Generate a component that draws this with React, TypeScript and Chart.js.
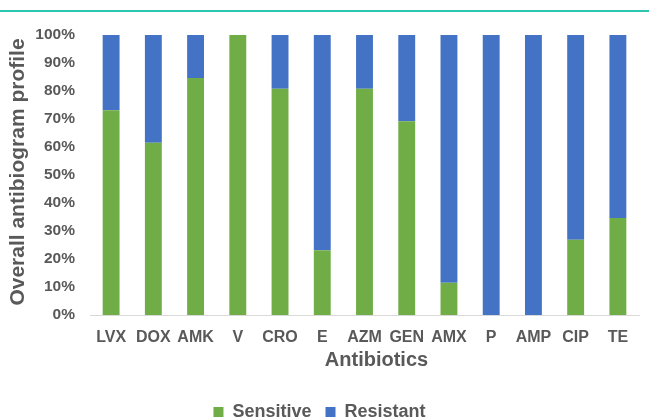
import React, { useEffect, useRef } from "react";
import { Chart, registerables } from "chart.js";

Chart.register(...registerables);

const categories = ["LVX", "DOX", "AMK", "V", "CRO", "E", "AZM", "GEN", "AMX", "P", "AMP", "CIP", "TE"];
const sensitive = [73.1, 61.5, 84.6, 100, 80.8, 23.1, 80.8, 69.2, 11.5, 0, 0, 26.9, 34.6];
const resistant = [26.9, 38.5, 15.4, 0, 19.2, 76.9, 19.2, 30.8, 88.5, 100, 100, 73.1, 65.4];
const yTicks = ["0%", "10%", "20%", "30%", "40%", "50%", "60%", "70%", "80%", "90%", "100%"];
const xTitle = "Antibiotics";
const yTitle = "Overall antibiogram profile";

const TEXT = "#595959";
const FONT = "'Liberation Sans', Arial, sans-serif";

const titlesPlugin = {
  id: "axisTitles",
  afterDraw(chart: any) {
    const { ctx, chartArea } = chart;
    ctx.save();
    ctx.fillStyle = TEXT;
    ctx.font = `bold 20px ${FONT}`;
    ctx.textAlign = "center";
    ctx.textBaseline = "middle";
    const cx = (chartArea.left + chartArea.right) / 2 + 12;
    ctx.fillText(xTitle, cx, chartArea.bottom + 45);
    ctx.translate(18, (chartArea.top + chartArea.bottom) / 2 - 3);
    ctx.rotate(-Math.PI / 2);
    ctx.font = `bold 21px ${FONT}`;
    ctx.fillText(yTitle, 0, 0);
    ctx.restore();
  },
};

export default function App() {
  const ref = useRef<HTMLCanvasElement>(null);
  useEffect(() => {
    const chart = new Chart(ref.current!, {
      type: "bar",
      data: {
        labels: categories,
        datasets: [
          { label: "Sensitive", data: sensitive, backgroundColor: "#70AD47" },
          { label: "Resistant", data: resistant, backgroundColor: "#4472C4" },
        ],
      },
      options: {
        animation: false,
        responsive: true,
        maintainAspectRatio: false,
        layout: { padding: { top: 35, right: 10, left: 0, bottom: 0 } },
        datasets: { bar: { barPercentage: 0.4, categoryPercentage: 1 } },
        plugins: {
          tooltip: { enabled: false },
          legend: {
            position: "bottom",
            labels: {
              boxWidth: 10,
              boxHeight: 10,
              padding: 14,
              color: TEXT,
              font: { family: FONT, size: 18, weight: "bold" },
            },
          },
        },
        scales: {
          x: {
            stacked: true,
            grid: { display: false },
            border: { color: "#D9D9D9", width: 1 },
            ticks: {
              color: TEXT,
              padding: 5,
              maxRotation: 0,
              autoSkip: false,
              font: { family: FONT, size: 16, weight: "bold" },
            },
            afterFit: (s: any) => {
              s.height = 74;
            },
          },
          y: {
            stacked: true,
            min: 0,
            max: 100,
            grid: { display: false },
            border: { display: false },
            ticks: {
              stepSize: 10,
              color: TEXT,
              padding: 7,
              font: { family: FONT, size: 15.5, weight: "bold" },
              callback: (v: any) => yTicks[Math.round(Number(v) / 10)],
            },
            afterFit: (s: any) => {
              s.width = 90;
            },
          },
        },
      },
      plugins: [titlesPlugin],
    });
    return () => chart.destroy();
  }, []);
  return (
    <div style={{ position: "absolute", left: 0, top: 0, width: 649, height: 419, overflow: "hidden", background: "#fff" }}>
      <div style={{ position: "absolute", left: 0, top: 10, width: 649, height: 2, background: "#2CC5B0" }} />
      <div style={{ position: "absolute", left: 0, top: 0, width: 649, height: 431 }}>
        <canvas ref={ref} />
      </div>
    </div>
  );
}
